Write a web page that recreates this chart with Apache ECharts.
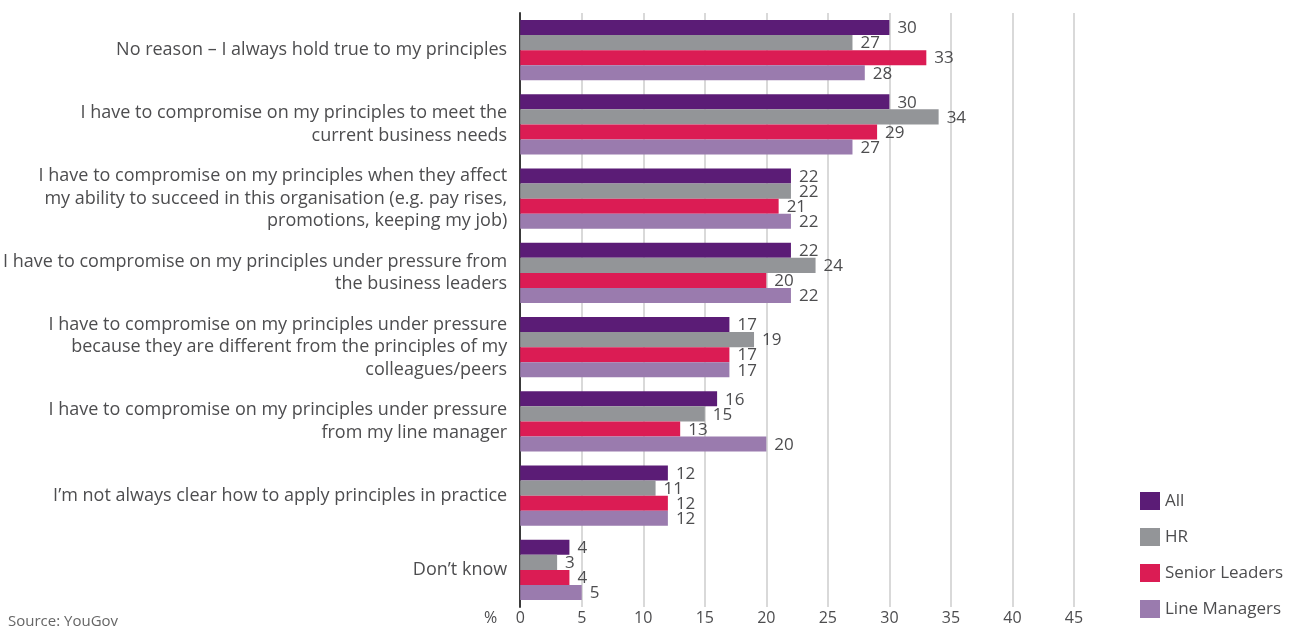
<!DOCTYPE html>
<html>
<head>
<meta charset="utf-8">
<script src="https://cdn.jsdelivr.net/npm/echarts@6/dist/echarts.min.js"></script>
<style>
html,body{margin:0;padding:0;background:#fff;}
#c{width:1293px;height:626px;}
</style>
</head>
<body>
<div id="c"></div>
<script>
const categories = [
  "No reason – I always hold true to my principles",
  "I have to compromise on my principles to meet the\ncurrent business needs",
  "I have to compromise on my principles when they affect\nmy ability to succeed in this organisation (e.g. pay rises,\npromotions, keeping my job)",
  "I have to compromise on my principles under pressure from\nthe business leaders",
  "I have to compromise on my principles under pressure\nbecause they are different from the principles of my\ncolleagues/peers",
  "I have to compromise on my principles under pressure\nfrom my line manager",
  "I’m not always clear how to apply principles in practice",
  "Don’t know"
];
const seriesNames = ["All", "HR", "Senior Leaders", "Line Managers"];
const allValues = [30, 30, 22, 22, 17, 16, 12, 4];
const hrValues = [27, 34, 22, 24, 19, 15, 11, 3];
const seniorValues = [33, 29, 21, 20, 17, 13, 12, 4];
const lineValues = [28, 27, 22, 22, 17, 20, 12, 5];
const xTicks = [0, 5, 10, 15, 20, 25, 30, 35, 40, 45];
const colors = ["#5b1c76", "#939598", "#db1c54", "#9a7bae"];

const chart = echarts.init(document.getElementById('c'));
const font = "'Open Sans', sans-serif";
const mk = (name, data, i) => ({
  name: name,
  type: 'bar',
  data: data,
  barGap: '0%',
  barCategoryGap: '19%',
  itemStyle: { color: colors[i] },
  label: {
    show: true,
    position: 'right',
    distance: 8,
    color: '#4d4d4f',
    fontSize: 17,
    fontFamily: font,
    offset: [0, 1]
  }
});
chart.setOption({
  animation: false,
  grid: { left: 520, right: 219, top: 13, bottom: 19, containLabel: false },
  legend: {
    orient: 'vertical',
    left: 1135,
    top: 487,
    itemWidth: 20,
    itemHeight: 18,
    itemGap: 18,
    icon: 'rect',
    textStyle: { color: '#4d4d4f', fontSize: 17, fontFamily: font },
    data: seriesNames
  },
  xAxis: {
    type: 'value',
    min: 0,
    max: 45,
    interval: 5,
    name: '%',
    nameLocation: 'start',
    nameGap: 23,
    nameTextStyle: { color: '#4d4d4f', fontSize: 16, fontFamily: font, verticalAlign: 'top', padding: [3, 0, 0, 0] },
    axisLine: { show: false },
    axisTick: { show: false },
    axisLabel: {
      color: '#4d4d4f', fontSize: 16, fontFamily: font, margin: 3,
      formatter: v => xTicks.includes(v) ? String(v) : ''
    },
    splitLine: { show: true, lineStyle: { color: '#d9d9d9', width: 2 } }
  },
  yAxis: {
    type: 'category',
    inverse: true,
    data: categories,
    axisLine: { show: true, lineStyle: { color: '#3a3a3a', width: 2 } },
    axisTick: { show: false },
    axisLabel: {
      color: '#4d4d4f', fontSize: 18, fontFamily: font, lineHeight: 22.5, margin: 13, align: 'right',
      padding: [7, 0, 0, 0], backgroundColor: 'rgba(255,255,255,0)'
    }
  },
  graphic: [{
    type: 'text',
    left: 8,
    top: 614,
    style: { text: 'Source: YouGov', fill: '#666', fontSize: 15, fontFamily: font }
  }],
  series: [
    mk(seriesNames[0], allValues, 0),
    mk(seriesNames[1], hrValues, 1),
    mk(seriesNames[2], seniorValues, 2),
    mk(seriesNames[3], lineValues, 3)
  ]
});
</script>
</body>
</html>
